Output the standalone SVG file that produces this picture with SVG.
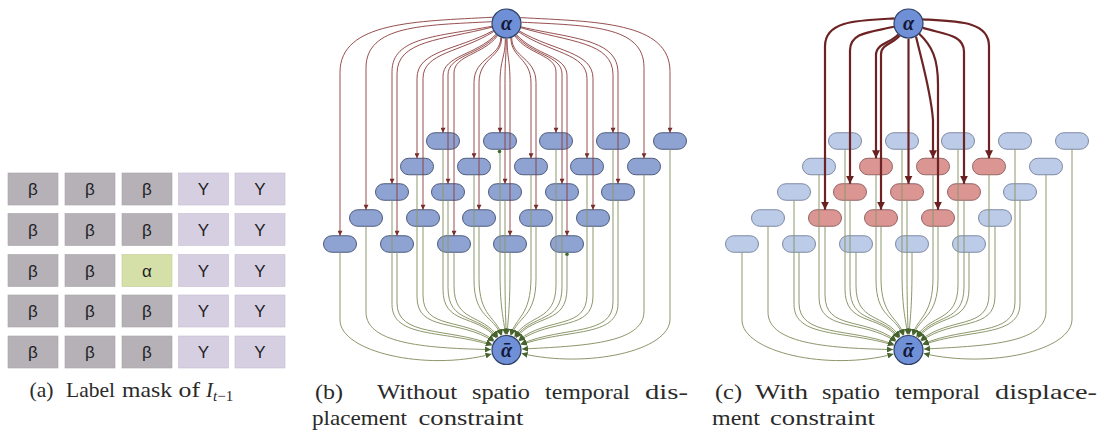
<svg xmlns="http://www.w3.org/2000/svg" width="1107" height="430" viewBox="0 0 1107 430">
  <style>
    .cb { fill: #b5b1b6; stroke: #a7a3a9; stroke-width: 0.6; }
    .cg { fill: #d6cfe2; stroke: #c3bccf; stroke-width: 0.6; }
    .ca { fill: #d5e0a9; stroke: #c0cb96; stroke-width: 0.6; }
    .lt { font-family: "Liberation Sans", Arial, sans-serif; font-size: 17px; fill: #1e1e26; text-anchor: middle; }
    .cap { font-family: "Liberation Serif", "Times New Roman", serif; font-size: 21px; fill: #2a2a2a; }
    .pb { fill: #8fa3d2; stroke: #4c5a7c; stroke-width: 1; }
    .pc { fill: #bccbe8; stroke: #7d89a3; stroke-width: 1; }
    .pr { fill: #db9593; stroke: #946463; stroke-width: 1; }
    .hub { fill: #6f90d6; stroke: #2f3f66; stroke-width: 1.2; }
    .ht { font-family: "Liberation Serif", "DejaVu Serif", serif; font-size: 20px; font-weight: bold; font-style: italic; fill: #14183a; text-anchor: middle; }
    .er { fill: none; stroke: #8a3b3b; stroke-width: 0.9; marker-end: url(#ah-red); }
    .ec { fill: none; stroke: #6d2323; stroke-width: 2.2; marker-end: url(#ah-red-c); }
    .eg { fill: none; stroke: #8c976a; stroke-width: 1; marker-end: url(#ah-grn); }
  </style>
  <defs>
    <marker id="ah-red" viewBox="0 0 10 10" refX="10" refY="5" markerUnits="userSpaceOnUse" markerWidth="6" markerHeight="5" orient="auto">
      <path d="M0,0 L10,5 L0,10 z" fill="#7a2e2e"/>
    </marker>
    <marker id="ah-red-c" viewBox="0 0 10 10" refX="10" refY="5" markerUnits="userSpaceOnUse" markerWidth="8" markerHeight="8" orient="auto">
      <path d="M0,0 L10,5 L0,10 z" fill="#6a2020"/>
    </marker>
    <marker id="ah-grn" viewBox="0 0 10 10" refX="10" refY="5" markerUnits="userSpaceOnUse" markerWidth="6" markerHeight="6" orient="auto">
      <path d="M0,0 L10,5 L0,10 z" fill="#46632e"/>
    </marker>
  </defs>

  <rect width="1107" height="430" fill="#ffffff"/>

  <!-- (a) label mask grid -->
  <g id="mask">
    <g id="m-0-0"><rect class="cb" x="8" y="173" width="50" height="32"/><text class="lt" x="33" y="195">β</text></g>
    <g id="m-0-1"><rect class="cb" x="65" y="173" width="50" height="32"/><text class="lt" x="90" y="195">β</text></g>
    <g id="m-0-2"><rect class="cb" x="122" y="173" width="50" height="32"/><text class="lt" x="147" y="195">β</text></g>
    <g id="m-0-3"><rect class="cg" x="178.5" y="173" width="50" height="32"/><text class="lt" x="203.5" y="195">Y</text></g>
    <g id="m-0-4"><rect class="cg" x="235" y="173" width="50" height="32"/><text class="lt" x="260" y="195">Y</text></g>

    <g id="m-1-0"><rect class="cb" x="8" y="213.5" width="50" height="32"/><text class="lt" x="33" y="235.5">β</text></g>
    <g id="m-1-1"><rect class="cb" x="65" y="213.5" width="50" height="32"/><text class="lt" x="90" y="235.5">β</text></g>
    <g id="m-1-2"><rect class="cb" x="122" y="213.5" width="50" height="32"/><text class="lt" x="147" y="235.5">β</text></g>
    <g id="m-1-3"><rect class="cg" x="178.5" y="213.5" width="50" height="32"/><text class="lt" x="203.5" y="235.5">Y</text></g>
    <g id="m-1-4"><rect class="cg" x="235" y="213.5" width="50" height="32"/><text class="lt" x="260" y="235.5">Y</text></g>

    <g id="m-2-0"><rect class="cb" x="8" y="254.5" width="50" height="32"/><text class="lt" x="33" y="276.5">β</text></g>
    <g id="m-2-1"><rect class="cb" x="65" y="254.5" width="50" height="32"/><text class="lt" x="90" y="276.5">β</text></g>
    <g id="m-2-2"><rect class="ca" x="122" y="254.5" width="50" height="32"/><text class="lt" x="147" y="276.5">α</text></g>
    <g id="m-2-3"><rect class="cg" x="178.5" y="254.5" width="50" height="32"/><text class="lt" x="203.5" y="276.5">Y</text></g>
    <g id="m-2-4"><rect class="cg" x="235" y="254.5" width="50" height="32"/><text class="lt" x="260" y="276.5">Y</text></g>

    <g id="m-3-0"><rect class="cb" x="8" y="295" width="50" height="32"/><text class="lt" x="33" y="317">β</text></g>
    <g id="m-3-1"><rect class="cb" x="65" y="295" width="50" height="32"/><text class="lt" x="90" y="317">β</text></g>
    <g id="m-3-2"><rect class="cb" x="122" y="295" width="50" height="32"/><text class="lt" x="147" y="317">β</text></g>
    <g id="m-3-3"><rect class="cg" x="178.5" y="295" width="50" height="32"/><text class="lt" x="203.5" y="317">Y</text></g>
    <g id="m-3-4"><rect class="cg" x="235" y="295" width="50" height="32"/><text class="lt" x="260" y="317">Y</text></g>

    <g id="m-4-0"><rect class="cb" x="8" y="336" width="50" height="32"/><text class="lt" x="33" y="358">β</text></g>
    <g id="m-4-1"><rect class="cb" x="65" y="336" width="50" height="32"/><text class="lt" x="90" y="358">β</text></g>
    <g id="m-4-2"><rect class="cb" x="122" y="336" width="50" height="32"/><text class="lt" x="147" y="358">β</text></g>
    <g id="m-4-3"><rect class="cg" x="178.5" y="336" width="50" height="32"/><text class="lt" x="203.5" y="358">Y</text></g>
    <g id="m-4-4"><rect class="cg" x="235" y="336" width="50" height="32"/><text class="lt" x="260" y="358">Y</text></g>
  </g>

  <!-- (b) graph: every pixel node linked to both terminals -->
  <g id="graph-b">
    <g id="b-pixels">
      <g id="b-0-0"><rect class="pb" x="426.5" y="132.75" width="33" height="16.5" rx="8.25"/></g>
      <g id="b-0-1"><rect class="pb" x="483.5" y="132.75" width="33" height="16.5" rx="8.25"/></g>
      <g id="b-0-2"><rect class="pb" x="539.5" y="132.75" width="33" height="16.5" rx="8.25"/></g>
      <g id="b-0-3"><rect class="pb" x="596.5" y="132.75" width="33" height="16.5" rx="8.25"/></g>
      <g id="b-0-4"><rect class="pb" x="653.5" y="132.75" width="33" height="16.5" rx="8.25"/></g>
      <g id="b-1-0"><rect class="pb" x="400.5" y="158.25" width="33" height="16.5" rx="8.25"/></g>
      <g id="b-1-1"><rect class="pb" x="457.5" y="158.25" width="33" height="16.5" rx="8.25"/></g>
      <g id="b-1-2"><rect class="pb" x="514.5" y="158.25" width="33" height="16.5" rx="8.25"/></g>
      <g id="b-1-3"><rect class="pb" x="570.5" y="158.25" width="33" height="16.5" rx="8.25"/></g>
      <g id="b-1-4"><rect class="pb" x="627.5" y="158.25" width="33" height="16.5" rx="8.25"/></g>
      <g id="b-2-0"><rect class="pb" x="375.5" y="183.75" width="33" height="16.5" rx="8.25"/></g>
      <g id="b-2-1"><rect class="pb" x="431.5" y="183.75" width="33" height="16.5" rx="8.25"/></g>
      <g id="b-2-2"><rect class="pb" x="488.5" y="183.75" width="33" height="16.5" rx="8.25"/></g>
      <g id="b-2-3"><rect class="pb" x="545.5" y="183.75" width="33" height="16.5" rx="8.25"/></g>
      <g id="b-2-4"><rect class="pb" x="601.5" y="183.75" width="33" height="16.5" rx="8.25"/></g>
      <g id="b-3-0"><rect class="pb" x="349.5" y="209.75" width="33" height="16.5" rx="8.25"/></g>
      <g id="b-3-1"><rect class="pb" x="406.5" y="209.75" width="33" height="16.5" rx="8.25"/></g>
      <g id="b-3-2"><rect class="pb" x="462.5" y="209.75" width="33" height="16.5" rx="8.25"/></g>
      <g id="b-3-3"><rect class="pb" x="519.5" y="209.75" width="33" height="16.5" rx="8.25"/></g>
      <g id="b-3-4"><rect class="pb" x="576.5" y="209.75" width="33" height="16.5" rx="8.25"/></g>
      <g id="b-4-0"><rect class="pb" x="323.5" y="235.75" width="33" height="16.5" rx="8.25"/></g>
      <g id="b-4-1"><rect class="pb" x="380.5" y="235.75" width="33" height="16.5" rx="8.25"/></g>
      <g id="b-4-2"><rect class="pb" x="437.5" y="235.75" width="33" height="16.5" rx="8.25"/></g>
      <g id="b-4-3"><rect class="pb" x="493.5" y="235.75" width="33" height="16.5" rx="8.25"/></g>
      <g id="b-4-4"><rect class="pb" x="550.5" y="235.75" width="33" height="16.5" rx="8.25"/></g>
    </g>

    <g id="b-edges">
      <!-- source terminal to pixels -->
      <path class="er" d="M496.1 34.3 C475.9 55.4 443 55.4 443 76.3 V132.75"/>
      <path class="er" d="M505.3 38.5 C505.3 58.5 500 58.5 500 83.5 V132.75"/>
      <path class="er" d="M514.9 35.9 C527.6 54.6 556 54.6 556 71.9 V132.75"/>
      <path class="er" d="M520.9 27.7 C569.5 42 613 42 613 74.6 V132.75"/>
      <path class="er" d="M520.3 17.6 C596.1 21.7 670 21.7 670 71.6 V132.75"/>
      <path class="er" d="M493.3 30.6 C456.3 50.4 417 50.4 417 78.3 V158.25"/>
      <path class="er" d="M500.8 37.4 C500.8 57.4 474 57.4 474 82.4 V158.25"/>
      <path class="er" d="M510.9 37.9 C510.9 57.9 531 57.9 531 82.9 V158.25"/>
      <path class="er" d="M518.9 32 C549.8 53.2 587 53.2 587 78.6 V158.25"/>
      <path class="er" d="M521.4 22.2 C588.5 25.6 644 25.6 644 67.4 V158.25"/>
      <path class="er" d="M491.8 26.3 C437.9 36.7 392 36.7 392 71.6 V183.75"/>
      <path class="er" d="M496.8 34.9 C479.4 55.3 448 55.3 448 74.9 V183.75"/>
      <path class="er" d="M506.2 38.5 C506.2 58.5 505 58.5 505 83.5 V183.75"/>
      <path class="er" d="M515.8 35.3 C531.5 55.2 562 55.2 562 74.1 V183.75"/>
      <path class="er" d="M521.1 26.9 C573 38.9 618 38.9 618 73 V183.75"/>
      <path class="er" d="M491.6 21.7 C423.1 25.2 366 25.2 366 67.9 V209.75"/>
      <path class="er" d="M493.8 31.5 C460.9 52.3 423 52.3 423 78.5 V209.75"/>
      <path class="er" d="M501.6 37.7 C501.6 57.7 479 57.7 479 82.7 V209.75"/>
      <path class="er" d="M511.7 37.6 C511.7 57.6 536 57.6 536 82.6 V209.75"/>
      <path class="er" d="M519.5 31.1 C554.4 51.5 593 51.5 593 78.5 V209.75"/>
      <path class="er" d="M492.9 17.2 C416.7 21.4 340 21.4 340 72.3 V235.75"/>
      <path class="er" d="M492 27.2 C441.3 40.2 397 40.2 397 73.7 V235.75"/>
      <path class="er" d="M497.6 35.6 C483.4 54.9 454 54.9 454 73 V235.75"/>
      <path class="er" d="M507.1 38.5 C507.1 58.5 510 58.5 510 83.5 V235.75"/>
      <path class="er" d="M516.5 34.7 C535 55.4 567 55.4 567 75.6 V235.75"/>
      <!-- pixels to sink terminal -->
      <path class="eg" d="M443 149.25 V289.1 C443 325.9 475.8 313.4 496.5 338.1"/>
      <path class="eg" d="M500 149.25 V272 C500 311.6 504.5 322.2 505.4 334.5"/>
      <path class="eg" d="M556 149.25 V284.9 C556 322.4 528.6 313.4 514.5 336.7"/>
      <path class="eg" d="M613 149.25 V302 C613 336.6 564.4 325.6 520.8 344"/>
      <path class="eg" d="M670 149.25 V319.1 C670 350.9 587.1 368.8 521.6 353.5"/>
      <path class="eg" d="M417 174.75 V296.9 C417 332.4 459.2 318.6 493.6 341.4"/>
      <path class="eg" d="M474 174.75 V279.8 C474 318.1 493.6 315.4 501.1 335.5"/>
      <path class="eg" d="M531 174.75 V277.4 C531 316.1 515.5 317.2 510.6 335.1"/>
      <path class="eg" d="M587 174.75 V294.2 C587 330.1 548.1 316.1 518.5 340.2"/>
      <path class="eg" d="M644 174.75 V311.3 C644 344.4 580 345.8 522 349.1"/>
      <path class="eg" d="M392 200.25 V304.4 C392 338.6 444 330 491.7 345.3"/>
      <path class="eg" d="M448 200.25 V287.6 C448 324.6 478.9 313.2 497.2 337.6"/>
      <path class="eg" d="M505 200.25 V270.5 C505 310.4 506 324 506.2 334.5"/>
      <path class="eg" d="M562 200.25 V286.7 C562 323.9 532.3 313.2 515.4 337.3"/>
      <path class="eg" d="M618 200.25 V303.5 C618 337.9 567.2 328.3 521.1 344.8"/>
      <path class="eg" d="M366 226.25 V312.2 C366 345.1 431.8 348.2 491 349.6"/>
      <path class="eg" d="M423 226.25 V295.1 C423 330.9 463 316.8 494.2 340.6"/>
      <path class="eg" d="M479 226.25 V278.3 C479 316.9 496.1 316.5 501.9 335.2"/>
      <path class="eg" d="M536 226.25 V278.9 C536 317.4 517.9 316.1 511.4 335.3"/>
      <path class="eg" d="M593 226.25 V296 C593 331.6 551.9 317.6 519.1 341"/>
      <path class="eg" d="M340 252.25 V320 C340 351.6 425.5 371.7 491.5 354"/>
      <path class="eg" d="M397 252.25 V302.9 C397 337.4 446.9 327.2 492 344.5"/>
      <path class="eg" d="M454 252.25 V285.8 C454 323.1 482.5 313.2 498 337"/>
      <path class="eg" d="M510 252.25 V271 C510 310.9 507.5 323.3 507.1 334.5"/>
      <path class="eg" d="M567 252.25 V288.2 C567 325.1 535.4 313.3 516.1 337.8"/>
      <circle cx="499.5" cy="151.5" r="1.8" fill="#3f6a2c"/>
      <circle cx="567" cy="254.3" r="1.8" fill="#3f6a2c"/>
    </g>

    <g id="b-source"><circle class="hub" cx="506.5" cy="23.5" r="14.5"/><text class="ht" x="506.5" y="30">α</text></g>
    <g id="b-sink"><circle class="hub" cx="506.5" cy="350" r="14.5"/><text class="ht" x="506.5" y="356.5">ᾱ</text></g>
  </g>

  <!-- (c) graph: source linked only to the 3x3 neighbourhood -->
  <g id="graph-c" transform="translate(402,0)">
    <g id="c-pixels">
      <g id="c-0-0"><rect class="pc" x="426.5" y="132.75" width="33" height="16.5" rx="8.25"/></g>
      <g id="c-0-1"><rect class="pc" x="483.5" y="132.75" width="33" height="16.5" rx="8.25"/></g>
      <g id="c-0-2"><rect class="pc" x="539.5" y="132.75" width="33" height="16.5" rx="8.25"/></g>
      <g id="c-0-3"><rect class="pc" x="596.5" y="132.75" width="33" height="16.5" rx="8.25"/></g>
      <g id="c-0-4"><rect class="pc" x="653.5" y="132.75" width="33" height="16.5" rx="8.25"/></g>
      <g id="c-1-0"><rect class="pc" x="400.5" y="158.25" width="33" height="16.5" rx="8.25"/></g>
      <g id="c-1-1"><rect class="pr" x="457.5" y="158.25" width="33" height="16.5" rx="8.25"/></g>
      <g id="c-1-2"><rect class="pr" x="514.5" y="158.25" width="33" height="16.5" rx="8.25"/></g>
      <g id="c-1-3"><rect class="pr" x="570.5" y="158.25" width="33" height="16.5" rx="8.25"/></g>
      <g id="c-1-4"><rect class="pc" x="627.5" y="158.25" width="33" height="16.5" rx="8.25"/></g>
      <g id="c-2-0"><rect class="pc" x="375.5" y="183.75" width="33" height="16.5" rx="8.25"/></g>
      <g id="c-2-1"><rect class="pr" x="431.5" y="183.75" width="33" height="16.5" rx="8.25"/></g>
      <g id="c-2-2"><rect class="pr" x="488.5" y="183.75" width="33" height="16.5" rx="8.25"/></g>
      <g id="c-2-3"><rect class="pr" x="545.5" y="183.75" width="33" height="16.5" rx="8.25"/></g>
      <g id="c-2-4"><rect class="pc" x="601.5" y="183.75" width="33" height="16.5" rx="8.25"/></g>
      <g id="c-3-0"><rect class="pc" x="349.5" y="209.75" width="33" height="16.5" rx="8.25"/></g>
      <g id="c-3-1"><rect class="pr" x="406.5" y="209.75" width="33" height="16.5" rx="8.25"/></g>
      <g id="c-3-2"><rect class="pr" x="462.5" y="209.75" width="33" height="16.5" rx="8.25"/></g>
      <g id="c-3-3"><rect class="pr" x="519.5" y="209.75" width="33" height="16.5" rx="8.25"/></g>
      <g id="c-3-4"><rect class="pc" x="576.5" y="209.75" width="33" height="16.5" rx="8.25"/></g>
      <g id="c-4-0"><rect class="pc" x="323.5" y="235.75" width="33" height="16.5" rx="8.25"/></g>
      <g id="c-4-1"><rect class="pc" x="380.5" y="235.75" width="33" height="16.5" rx="8.25"/></g>
      <g id="c-4-2"><rect class="pc" x="437.5" y="235.75" width="33" height="16.5" rx="8.25"/></g>
      <g id="c-4-3"><rect class="pc" x="493.5" y="235.75" width="33" height="16.5" rx="8.25"/></g>
      <g id="c-4-4"><rect class="pc" x="550.5" y="235.75" width="33" height="16.5" rx="8.25"/></g>
    </g>

    <g id="c-edges">
      <!-- pixels to sink terminal -->
      <path class="eg" d="M443 149.25 V289.1 C443 325.9 475.8 313.4 496.5 338.1"/>
      <path class="eg" d="M500 149.25 V272 C500 311.6 504.5 322.2 505.4 334.5"/>
      <path class="eg" d="M556 149.25 V284.9 C556 322.4 528.6 313.4 514.5 336.7"/>
      <path class="eg" d="M613 149.25 V302 C613 336.6 564.4 325.6 520.8 344"/>
      <path class="eg" d="M670 149.25 V319.1 C670 350.9 587.1 368.8 521.6 353.5"/>
      <path class="eg" d="M417 174.75 V296.9 C417 332.4 459.2 318.6 493.6 341.4"/>
      <path class="eg" d="M474 174.75 V279.8 C474 318.1 493.6 315.4 501.1 335.5"/>
      <path class="eg" d="M531 174.75 V277.4 C531 316.1 515.5 317.2 510.6 335.1"/>
      <path class="eg" d="M587 174.75 V294.2 C587 330.1 548.1 316.1 518.5 340.2"/>
      <path class="eg" d="M644 174.75 V311.3 C644 344.4 580 345.8 522 349.1"/>
      <path class="eg" d="M392 200.25 V304.4 C392 338.6 444 330 491.7 345.3"/>
      <path class="eg" d="M448 200.25 V287.6 C448 324.6 478.9 313.2 497.2 337.6"/>
      <path class="eg" d="M505 200.25 V270.5 C505 310.4 506 324 506.2 334.5"/>
      <path class="eg" d="M562 200.25 V286.7 C562 323.9 532.3 313.2 515.4 337.3"/>
      <path class="eg" d="M618 200.25 V303.5 C618 337.9 567.2 328.3 521.1 344.8"/>
      <path class="eg" d="M366 226.25 V312.2 C366 345.1 431.8 348.2 491 349.6"/>
      <path class="eg" d="M423 226.25 V295.1 C423 330.9 463 316.8 494.2 340.6"/>
      <path class="eg" d="M479 226.25 V278.3 C479 316.9 496.1 316.5 501.9 335.2"/>
      <path class="eg" d="M536 226.25 V278.9 C536 317.4 517.9 316.1 511.4 335.3"/>
      <path class="eg" d="M593 226.25 V296 C593 331.6 551.9 317.6 519.1 341"/>
      <path class="eg" d="M340 252.25 V320 C340 351.6 425.5 371.7 491.5 354"/>
      <path class="eg" d="M397 252.25 V302.9 C397 337.4 446.9 327.2 492 344.5"/>
      <path class="eg" d="M454 252.25 V285.8 C454 323.1 482.5 313.2 498 337"/>
      <path class="eg" d="M510 252.25 V271 C510 310.9 507.5 323.3 507.1 334.5"/>
      <path class="eg" d="M567 252.25 V288.2 C567 325.1 535.4 313.3 516.1 337.8"/>
      <!-- source terminal to neighbourhood pixels -->
      <path class="ec" d="M492.4 18.4 C456.5 20.3 423 20.3 423 46.1 V209.75"/>
      <path class="ec" d="M491.9 26.8 C468.4 32.2 448 32.2 448 50.4 V183.75"/>
      <path class="ec" d="M496.3 34.5 C487.9 43.5 474 43.5 474 55.2 V158.25"/>
      <path class="ec" d="M497.6 35.6 C491.6 43.8 479 43.8 479 54.4 V209.75"/>
      <path class="ec" d="M506.5 38.5 V183.75"/>
      <path class="ec" d="M514 36.5 C520 62 529 92 531 120 V158.25"/>
      <path class="ec" d="M517 33.5 C530 46 536 58 536 85 V209.75"/>
      <path class="ec" d="M520.9 27.9 C542.5 34.5 562 34.5 562 51.8 V183.75"/>
      <path class="ec" d="M520.9 19.4 C555.9 21.2 587 21.2 587 46 V158.25"/>
    </g>

    <g id="c-source"><circle class="hub" cx="506.5" cy="23.5" r="14.5"/><text class="ht" x="506.5" y="30">α</text></g>
    <g id="c-sink"><circle class="hub" cx="506.5" cy="350" r="14.5"/><text class="ht" x="506.5" y="356.5">ᾱ</text></g>
  </g>

  <!-- sub-figure captions -->
  <g id="captions">
    <text class="cap" y="397">
      <tspan x="29.5" textLength="24" lengthAdjust="spacingAndGlyphs">(a)</tspan>
      <tspan x="66" textLength="49" lengthAdjust="spacingAndGlyphs">Label</tspan>
      <tspan x="122" textLength="50" lengthAdjust="spacingAndGlyphs">mask</tspan>
      <tspan x="178.5" textLength="21.5" lengthAdjust="spacingAndGlyphs">of</tspan>
      <tspan x="206" font-style="italic">I</tspan><tspan font-size="15" dy="4"><tspan font-style="italic">t</tspan>−1</tspan>
    </text>
    <text class="cap" y="399">
      <tspan x="315" textLength="28" lengthAdjust="spacingAndGlyphs">(b)</tspan>
      <tspan x="377" textLength="80" lengthAdjust="spacingAndGlyphs">Without</tspan>
      <tspan x="472" textLength="58" lengthAdjust="spacingAndGlyphs">spatio</tspan>
      <tspan x="545" textLength="85" lengthAdjust="spacingAndGlyphs">temporal</tspan>
      <tspan x="645" textLength="43" lengthAdjust="spacingAndGlyphs">dis-</tspan>
    </text>
    <text class="cap" y="425">
      <tspan x="312" textLength="95" lengthAdjust="spacingAndGlyphs">placement</tspan>
      <tspan x="418.5" textLength="105" lengthAdjust="spacingAndGlyphs">constraint</tspan>
    </text>
    <text class="cap" y="399">
      <tspan x="715" textLength="27" lengthAdjust="spacingAndGlyphs">(c)</tspan>
      <tspan x="755" textLength="53" lengthAdjust="spacingAndGlyphs">With</tspan>
      <tspan x="822" textLength="58" lengthAdjust="spacingAndGlyphs">spatio</tspan>
      <tspan x="895" textLength="85" lengthAdjust="spacingAndGlyphs">temporal</tspan>
      <tspan x="995" textLength="102" lengthAdjust="spacingAndGlyphs">displace-</tspan>
    </text>
    <text class="cap" y="425">
      <tspan x="712" textLength="48" lengthAdjust="spacingAndGlyphs">ment</tspan>
      <tspan x="770" textLength="105" lengthAdjust="spacingAndGlyphs">constraint</tspan>
    </text>
  </g>
</svg>
